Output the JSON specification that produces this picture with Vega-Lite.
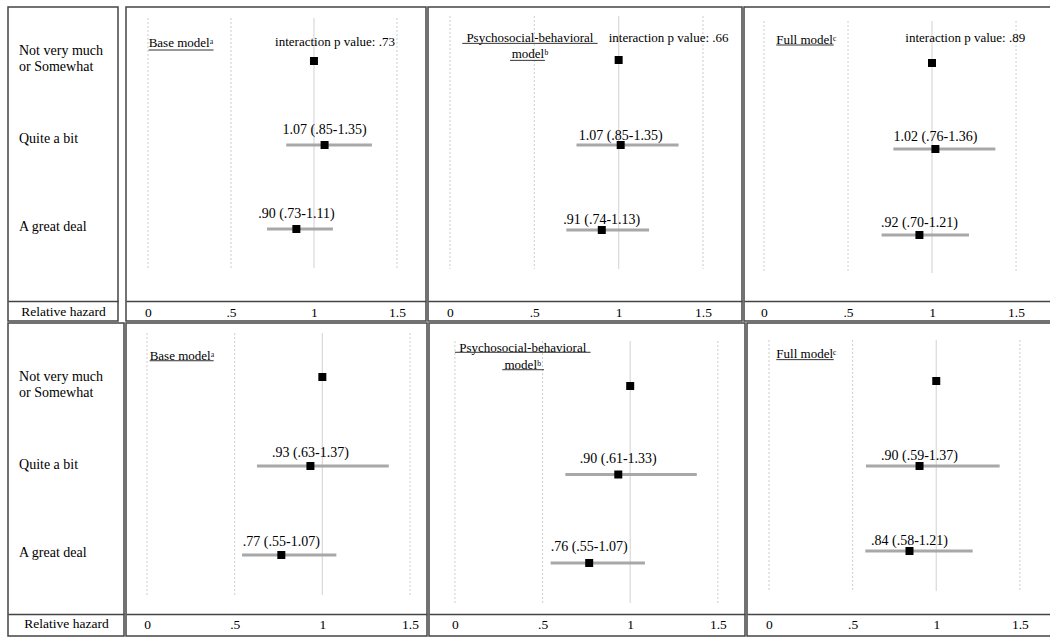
{
  "$schema": "https://vega.github.io/schema/vega-lite/v6.json",
  "background": "white",
  "padding": {"left": 7, "top": 6, "right": 3, "bottom": 5},
  "spacing": 0,
  "config": {
    "view": {"stroke": "#444444", "strokeWidth": 1.5},
    "font": "Liberation Serif",
    "text": {"font": "Liberation Serif", "color": "#000000"},
    "axis": {
      "domainColor": "#444444", "domainWidth": 1.5, "ticks": false, "tickSize": 0, "grid": false,
      "labelFont": "Liberation Serif", "labelFontSize": 13.5, "labelColor": "#000000",
      "titleFont": "Liberation Serif", "titleFontSize": 13.5, "titleColor": "#000000", "titleFontWeight": "normal",
      "labelFlush": false, "labelOverlap": false
    }
  },
  "datasets": {
    "cats": [
      {"r": 1, "lab": "Not very much\nor Somewhat"},
      {"r": 2, "lab": "Quite a bit"},
      {"r": 3, "lab": "A great deal"}
    ],
    "est": [
      {"panel": "top_base", "r": 1, "est": 1.0},
      {"panel": "top_base", "r": 2, "est": 1.064, "lo": 0.833, "hi": 1.349, "lab": "1.07 (.85-1.35)"},
      {"panel": "top_base", "r": 3, "est": 0.894, "lo": 0.717, "hi": 1.114, "lab": ".90 (.73-1.11)"},
      {"panel": "top_psych", "r": 1, "est": 1.0},
      {"panel": "top_psych", "r": 2, "est": 1.012, "lo": 0.75, "hi": 1.355, "lab": "1.07 (.85-1.35)"},
      {"panel": "top_psych", "r": 3, "est": 0.90, "lo": 0.69, "hi": 1.18, "lab": ".91 (.74-1.13)"},
      {"panel": "top_full", "r": 1, "est": 1.0},
      {"panel": "top_full", "r": 2, "est": 1.02, "lo": 0.77, "hi": 1.377, "lab": "1.02 (.76-1.36)"},
      {"panel": "top_full", "r": 3, "est": 0.925, "lo": 0.70, "hi": 1.22, "lab": ".92 (.70-1.21)"},
      {"panel": "bot_base", "r": 1, "est": 1.0},
      {"panel": "bot_base", "r": 2, "est": 0.932, "lo": 0.627, "hi": 1.379, "lab": ".93 (.63-1.37)"},
      {"panel": "bot_base", "r": 3, "est": 0.766, "lo": 0.542, "hi": 1.08, "lab": ".77 (.55-1.07)"},
      {"panel": "bot_psych", "r": 1, "est": 1.0},
      {"panel": "bot_psych", "r": 2, "est": 0.932, "lo": 0.63, "hi": 1.38, "lab": ".90 (.61-1.33)"},
      {"panel": "bot_psych", "r": 3, "est": 0.766, "lo": 0.546, "hi": 1.084, "lab": ".76 (.55-1.07)"},
      {"panel": "bot_full", "r": 1, "est": 1.0},
      {"panel": "bot_full", "r": 2, "est": 0.90, "lo": 0.58, "hi": 1.379, "lab": ".90 (.59-1.37)"},
      {"panel": "bot_full", "r": 3, "est": 0.84, "lo": 0.576, "hi": 1.218, "lab": ".84 (.58-1.21)"}
    ]
  },
  "vconcat": [
    {
      "spacing": 6,
      "hconcat": [
        {
          "width": 110, "height": 314,
          "data": {"name": "cats"},
          "mark": {"type": "text", "align": "left", "baseline": "middle", "fontSize": 14, "lineBreak": "\n", "lineHeight": 16},
          "encoding": {
            "x": {"datum": 0.1, "type": "quantitative", "scale": {"domain": [0, 1], "nice": false, "zero": false},
                  "axis": {"title": "Relative hazard", "labels": false, "domain": true, "offset": -20, "titlePadding": 3}},
            "y": {"field": "r", "type": "quantitative", "scale": {"domain": [0.503, 4.072], "reverse": true, "nice": false, "zero": false}, "axis": null},
            "text": {"field": "lab"}
          }
        },
        {
          "spacing": 0,
          "hconcat": [
            {
              "width": 300, "height": 314,
              "layer": [
                {"data": {"values": [{"v": 0}, {"v": 0.5}, {"v": 1.5}]},
                 "mark": {"type": "rule", "color": "#cccccc", "strokeDash": [2, 2], "strokeWidth": 1},
                 "encoding": {
                   "x": {"field": "v", "type": "quantitative", "scale": {"domain": [-0.1325, 1.675], "nice": false, "zero": false},
                         "axis": {"title": null, "values": [0, 0.5, 1, 1.5], "labelExpr": "datum.value == 0.5 ? '.5' : datum.value == 1.5 ? '1.5' : datum.value == 1 ? '1' : '0'", "offset": -20, "labelPadding": 4}},
                   "y": {"datum": 0.488, "type": "quantitative", "scale": {"domain": [0.357, 4.095], "reverse": true, "nice": false, "zero": false}, "axis": null},
                   "y2": {"datum": 3.464}}},
                {"data": {"values": [{"v": 1}]},
                 "mark": {"type": "rule", "color": "#d9d9d9", "strokeWidth": 1.2},
                 "encoding": {"x": {"field": "v", "type": "quantitative"}, "y": {"datum": 0.488, "type": "quantitative"}, "y2": {"datum": 3.464}}},
                {"data": {"name": "est"}, "transform": [{"filter": "datum.panel == 'top_base' && isValid(datum.lo)"}],
                 "mark": {"type": "rule", "color": "#a8a8a8", "strokeWidth": 3},
                 "encoding": {"x": {"field": "lo", "type": "quantitative"}, "x2": {"field": "hi"}, "y": {"field": "r", "type": "quantitative"}}},
                {"data": {"name": "est"}, "transform": [{"filter": "datum.panel == 'top_base'"}],
                 "mark": {"type": "point", "shape": "square", "filled": true, "color": "#000000", "size": 64, "opacity": 1},
                 "encoding": {"x": {"field": "est", "type": "quantitative"}, "y": {"field": "r", "type": "quantitative"}}},
                {"data": {"name": "est"}, "transform": [{"filter": "datum.panel == 'top_base' && isValid(datum.lab)"}],
                 "mark": {"type": "text", "fontSize": 14, "dy": -15.5, "align": "center", "baseline": "middle"},
                 "encoding": {"x": {"field": "est", "type": "quantitative"}, "y": {"field": "r", "type": "quantitative"}, "text": {"field": "lab"}}},
                {"data": {"values": [{"t": "Base modelᵃ"}]},
                 "mark": {"type": "text", "fontSize": 13, "align": "left", "baseline": "middle"},
                 "encoding": {"x": {"datum": 0.004}, "y": {"datum": 0.782}, "text": {"field": "t"}}},
                {"data": {"values": [{"u": 1}]},
                 "mark": {"type": "rule", "color": "#333333", "strokeWidth": 1},
                 "encoding": {"x": {"datum": 0.004}, "x2": {"datum": 0.395}, "y": {"datum": 0.869}}},
                {"data": {"values": [{"t": "interaction p value: .73"}]},
                 "mark": {"type": "text", "fontSize": 13, "align": "center", "baseline": "middle"},
                 "encoding": {"x": {"datum": 1.127}, "y": {"datum": 0.77}, "text": {"field": "t"}}}
              ]
            },
            {
              "width": 314, "height": 314,
              "layer": [
                {"data": {"values": [{"v": 0}, {"v": 0.5}, {"v": 1.5}]},
                 "mark": {"type": "rule", "color": "#cccccc", "strokeDash": [2, 2], "strokeWidth": 1},
                 "encoding": {
                   "x": {"field": "v", "type": "quantitative", "scale": {"domain": [-0.13, 1.731], "nice": false, "zero": false},
                         "axis": {"title": null, "values": [0, 0.5, 1, 1.5], "labelExpr": "datum.value == 0.5 ? '.5' : datum.value == 1.5 ? '1.5' : datum.value == 1 ? '1' : '0'", "offset": -20, "labelPadding": 4}},
                   "y": {"datum": 0.482, "type": "quantitative", "scale": {"domain": [0.376, 4.071], "reverse": true, "nice": false, "zero": false}, "axis": null},
                   "y2": {"datum": 3.459}}},
                {"data": {"values": [{"v": 1}]},
                 "mark": {"type": "rule", "color": "#d9d9d9", "strokeWidth": 1.2},
                 "encoding": {"x": {"field": "v", "type": "quantitative"}, "y": {"datum": 0.482, "type": "quantitative"}, "y2": {"datum": 3.459}}},
                {"data": {"name": "est"}, "transform": [{"filter": "datum.panel == 'top_psych' && isValid(datum.lo)"}],
                 "mark": {"type": "rule", "color": "#a8a8a8", "strokeWidth": 3},
                 "encoding": {"x": {"field": "lo", "type": "quantitative"}, "x2": {"field": "hi"}, "y": {"field": "r", "type": "quantitative"}}},
                {"data": {"name": "est"}, "transform": [{"filter": "datum.panel == 'top_psych'"}],
                 "mark": {"type": "point", "shape": "square", "filled": true, "color": "#000000", "size": 64, "opacity": 1},
                 "encoding": {"x": {"field": "est", "type": "quantitative"}, "y": {"field": "r", "type": "quantitative"}}},
                {"data": {"name": "est"}, "transform": [{"filter": "datum.panel == 'top_psych' && isValid(datum.lab)"}],
                 "mark": {"type": "text", "fontSize": 14, "dy": -9.5, "align": "center", "baseline": "middle"},
                 "encoding": {"x": {"field": "est", "type": "quantitative"}, "y": {"field": "r", "type": "quantitative"}, "text": {"field": "lab"}}},
                {"data": {"values": [{"t": "Psychosocial-behavioral\nmodelᵇ"}]},
                 "mark": {"type": "text", "fontSize": 13, "align": "center", "baseline": "middle", "lineBreak": "\n", "lineHeight": 16.6},
                 "encoding": {"x": {"datum": 0.474}, "y": {"datum": 0.738}, "text": {"field": "t"}}},
                {"data": {"values": [{"u": 1}]},
                 "mark": {"type": "rule", "color": "#333333", "strokeWidth": 1},
                 "encoding": {"x": {"datum": 0.073}, "x2": {"datum": 0.875}, "y": {"datum": 0.804}}},
                {"data": {"values": [{"u": 1}]},
                 "mark": {"type": "rule", "color": "#333333", "strokeWidth": 1},
                 "encoding": {"x": {"datum": 0.356}, "x2": {"datum": 0.563}, "y": {"datum": 1.004}}},
                {"data": {"values": [{"t": "interaction p value: .66"}]},
                 "mark": {"type": "text", "fontSize": 13, "align": "center", "baseline": "middle"},
                 "encoding": {"x": {"datum": 1.296}, "y": {"datum": 0.738}, "text": {"field": "t"}}}
              ]
            },
            {
              "width": 308, "height": 314,
              "layer": [
                {"data": {"values": [{"v": 0}, {"v": 0.5}, {"v": 1.5}]},
                 "mark": {"type": "rule", "color": "#cccccc", "strokeDash": [2, 2], "strokeWidth": 1},
                 "encoding": {
                   "x": {"field": "v", "type": "quantitative", "scale": {"domain": [-0.119, 1.714], "nice": false, "zero": false},
                         "axis": {"title": null, "values": [0, 0.5, 1, 1.5], "labelExpr": "datum.value == 0.5 ? '.5' : datum.value == 1.5 ? '1.5' : datum.value == 1 ? '1' : '0'", "offset": -20, "labelPadding": 4}},
                   "y": {"datum": 0.512, "type": "quantitative", "scale": {"domain": [0.349, 4.0], "reverse": true, "nice": false, "zero": false}, "axis": null},
                   "y2": {"datum": 3.442}}},
                {"data": {"values": [{"v": 1}]},
                 "mark": {"type": "rule", "color": "#d9d9d9", "strokeWidth": 1.2},
                 "encoding": {"x": {"field": "v", "type": "quantitative"}, "y": {"datum": 0.512, "type": "quantitative"}, "y2": {"datum": 3.442}}},
                {"data": {"name": "est"}, "transform": [{"filter": "datum.panel == 'top_full' && isValid(datum.lo)"}],
                 "mark": {"type": "rule", "color": "#a8a8a8", "strokeWidth": 3},
                 "encoding": {"x": {"field": "lo", "type": "quantitative"}, "x2": {"field": "hi"}, "y": {"field": "r", "type": "quantitative"}}},
                {"data": {"name": "est"}, "transform": [{"filter": "datum.panel == 'top_full'"}],
                 "mark": {"type": "point", "shape": "square", "filled": true, "color": "#000000", "size": 64, "opacity": 1},
                 "encoding": {"x": {"field": "est", "type": "quantitative"}, "y": {"field": "r", "type": "quantitative"}}},
                {"data": {"name": "est"}, "transform": [{"filter": "datum.panel == 'top_full' && isValid(datum.lab)"}],
                 "mark": {"type": "text", "fontSize": 14, "dy": -12, "align": "center", "baseline": "middle"},
                 "encoding": {"x": {"field": "est", "type": "quantitative"}, "y": {"field": "r", "type": "quantitative"}, "text": {"field": "lab"}}},
                {"data": {"values": [{"t": "Full modelᶜ"}]},
                 "mark": {"type": "text", "fontSize": 13, "align": "left", "baseline": "middle"},
                 "encoding": {"x": {"datum": 0.073}, "y": {"datum": 0.733}, "text": {"field": "t"}}},
                {"data": {"values": [{"u": 1}]},
                 "mark": {"type": "rule", "color": "#333333", "strokeWidth": 1},
                 "encoding": {"x": {"datum": 0.073}, "x2": {"datum": 0.415}, "y": {"datum": 0.791}}},
                {"data": {"values": [{"t": "interaction p value: .89"}]},
                 "mark": {"type": "text", "fontSize": 13, "align": "center", "baseline": "middle"},
                 "encoding": {"x": {"datum": 1.198}, "y": {"datum": 0.706}, "text": {"field": "t"}}}
              ]
            }
          ]
        }
      ]
    },
    {
      "spacing": 0,
      "hconcat": [
        {
          "width": 116, "height": 313,
          "data": {"name": "cats"},
          "mark": {"type": "text", "align": "left", "baseline": "middle", "fontSize": 14, "lineBreak": "\n", "lineHeight": 16},
          "encoding": {
            "x": {"datum": 0.095, "type": "quantitative", "scale": {"domain": [0, 1], "nice": false, "zero": false},
                  "axis": {"title": "Relative hazard", "labels": false, "domain": true, "offset": -22, "titlePadding": 2}},
            "y": {"field": "r", "type": "quantitative", "scale": {"domain": [0.39, 3.947], "reverse": true, "nice": false, "zero": false}, "axis": null},
            "text": {"field": "lab"}
          }
        },
        {
          "width": 301, "height": 313,
          "layer": [
            {"data": {"values": [{"v": 0}, {"v": 0.5}, {"v": 1.5}]},
             "mark": {"type": "rule", "color": "#cccccc", "strokeDash": [2, 2], "strokeWidth": 1},
             "encoding": {
               "x": {"field": "v", "type": "quantitative", "scale": {"domain": [-0.12, 1.597], "nice": false, "zero": false},
                     "axis": {"title": null, "values": [0, 0.5, 1, 1.5], "labelExpr": "datum.value == 0.5 ? '.5' : datum.value == 1.5 ? '1.5' : datum.value == 1 ? '1' : '0'", "offset": -22, "labelPadding": 3}},
               "y": {"datum": 0.506, "type": "quantitative", "scale": {"domain": [0.393, 3.91], "reverse": true, "nice": false, "zero": false}, "axis": null},
               "y2": {"datum": 3.449}}},
            {"data": {"values": [{"v": 1}]},
             "mark": {"type": "rule", "color": "#d9d9d9", "strokeWidth": 1.2},
             "encoding": {"x": {"field": "v", "type": "quantitative"}, "y": {"datum": 0.506, "type": "quantitative"}, "y2": {"datum": 3.449}}},
            {"data": {"name": "est"}, "transform": [{"filter": "datum.panel == 'bot_base' && isValid(datum.lo)"}],
             "mark": {"type": "rule", "color": "#a8a8a8", "strokeWidth": 3},
             "encoding": {"x": {"field": "lo", "type": "quantitative"}, "x2": {"field": "hi"}, "y": {"field": "r", "type": "quantitative"}}},
            {"data": {"name": "est"}, "transform": [{"filter": "datum.panel == 'bot_base'"}],
             "mark": {"type": "point", "shape": "square", "filled": true, "color": "#000000", "size": 64, "opacity": 1},
             "encoding": {"x": {"field": "est", "type": "quantitative"}, "y": {"field": "r", "type": "quantitative"}}},
            {"data": {"name": "est"}, "transform": [{"filter": "datum.panel == 'bot_base' && isValid(datum.lab)"}],
             "mark": {"type": "text", "fontSize": 14, "dy": -13, "align": "center", "baseline": "middle"},
             "encoding": {"x": {"field": "est", "type": "quantitative"}, "y": {"field": "r", "type": "quantitative"}, "text": {"field": "lab"}}},
            {"data": {"values": [{"t": "Base modelᵃ"}]},
             "mark": {"type": "text", "fontSize": 13, "align": "left", "baseline": "middle"},
             "encoding": {"x": {"datum": 0.015}, "y": {"datum": 0.761}, "text": {"field": "t"}}},
            {"data": {"values": [{"u": 1}]},
             "mark": {"type": "rule", "color": "#333333", "strokeWidth": 1},
             "encoding": {"x": {"datum": 0.015}, "x2": {"datum": 0.38}, "y": {"datum": 0.817}}}
          ]
        },
        {
          "width": 316, "height": 313,
          "layer": [
            {"data": {"values": [{"v": 0}, {"v": 0.5}, {"v": 1.5}]},
             "mark": {"type": "rule", "color": "#cccccc", "strokeDash": [2, 2], "strokeWidth": 1},
             "encoding": {
               "x": {"field": "v", "type": "quantitative", "scale": {"domain": [-0.148, 1.655], "nice": false, "zero": false},
                     "axis": {"title": null, "values": [0, 0.5, 1, 1.5], "labelExpr": "datum.value == 0.5 ? '.5' : datum.value == 1.5 ? '1.5' : datum.value == 1 ? '1' : '0'", "offset": -22, "labelPadding": 3}},
               "y": {"datum": 0.492, "type": "quantitative", "scale": {"domain": [0.288, 3.825], "reverse": true, "nice": false, "zero": false}, "axis": null},
               "y2": {"datum": 3.452}}},
            {"data": {"values": [{"v": 1}]},
             "mark": {"type": "rule", "color": "#d9d9d9", "strokeWidth": 1.2},
             "encoding": {"x": {"field": "v", "type": "quantitative"}, "y": {"datum": 0.492, "type": "quantitative"}, "y2": {"datum": 3.452}}},
            {"data": {"name": "est"}, "transform": [{"filter": "datum.panel == 'bot_psych' && isValid(datum.lo)"}],
             "mark": {"type": "rule", "color": "#a8a8a8", "strokeWidth": 3},
             "encoding": {"x": {"field": "lo", "type": "quantitative"}, "x2": {"field": "hi"}, "y": {"field": "r", "type": "quantitative"}}},
            {"data": {"name": "est"}, "transform": [{"filter": "datum.panel == 'bot_psych'"}],
             "mark": {"type": "point", "shape": "square", "filled": true, "color": "#000000", "size": 64, "opacity": 1},
             "encoding": {"x": {"field": "est", "type": "quantitative"}, "y": {"field": "r", "type": "quantitative"}}},
            {"data": {"name": "est"}, "transform": [{"filter": "datum.panel == 'bot_psych' && isValid(datum.lab)"}],
             "mark": {"type": "text", "fontSize": 14, "dy": -15.5, "align": "center", "baseline": "middle"},
             "encoding": {"x": {"field": "est", "type": "quantitative"}, "y": {"field": "r", "type": "quantitative"}, "text": {"field": "lab"}}},
            {"data": {"values": [{"t": "Psychosocial-behavioral\nmodelᵇ"}]},
             "mark": {"type": "text", "fontSize": 13, "align": "center", "baseline": "middle", "lineBreak": "\n", "lineHeight": 16.6},
             "encoding": {"x": {"datum": 0.387}, "y": {"datum": 0.571}, "text": {"field": "t"}}},
            {"data": {"values": [{"u": 1}]},
             "mark": {"type": "rule", "color": "#333333", "strokeWidth": 1},
             "encoding": {"x": {"datum": 0.0}, "x2": {"datum": 0.774}, "y": {"datum": 0.619}}},
            {"data": {"values": [{"u": 1}]},
             "mark": {"type": "rule", "color": "#333333", "strokeWidth": 1},
             "encoding": {"x": {"datum": 0.27}, "x2": {"datum": 0.508}, "y": {"datum": 0.816}}}
          ]
        },
        {
          "width": 305, "height": 313,
          "layer": [
            {"data": {"values": [{"v": 0}, {"v": 0.5}, {"v": 1.5}]},
             "mark": {"type": "rule", "color": "#cccccc", "strokeDash": [2, 2], "strokeWidth": 1},
             "encoding": {
               "x": {"field": "v", "type": "quantitative", "scale": {"domain": [-0.1315, 1.692], "nice": false, "zero": false},
                     "axis": {"title": null, "values": [0, 0.5, 1, 1.5], "labelExpr": "datum.value == 0.5 ? '.5' : datum.value == 1.5 ? '1.5' : datum.value == 1 ? '1' : '0'", "offset": -22, "labelPadding": 3}},
               "y": {"datum": 0.518, "type": "quantitative", "scale": {"domain": [0.318, 4.0], "reverse": true, "nice": false, "zero": false}, "axis": null},
               "y2": {"datum": 3.471}}},
            {"data": {"values": [{"v": 1}]},
             "mark": {"type": "rule", "color": "#d9d9d9", "strokeWidth": 1.2},
             "encoding": {"x": {"field": "v", "type": "quantitative"}, "y": {"datum": 0.518, "type": "quantitative"}, "y2": {"datum": 3.471}}},
            {"data": {"name": "est"}, "transform": [{"filter": "datum.panel == 'bot_full' && isValid(datum.lo)"}],
             "mark": {"type": "rule", "color": "#a8a8a8", "strokeWidth": 3},
             "encoding": {"x": {"field": "lo", "type": "quantitative"}, "x2": {"field": "hi"}, "y": {"field": "r", "type": "quantitative"}}},
            {"data": {"name": "est"}, "transform": [{"filter": "datum.panel == 'bot_full'"}],
             "mark": {"type": "point", "shape": "square", "filled": true, "color": "#000000", "size": 64, "opacity": 1},
             "encoding": {"x": {"field": "est", "type": "quantitative"}, "y": {"field": "r", "type": "quantitative"}}},
            {"data": {"name": "est"}, "transform": [{"filter": "datum.panel == 'bot_full' && isValid(datum.lab)"}],
             "mark": {"type": "text", "fontSize": 14, "dy": -9.5, "align": "center", "baseline": "middle"},
             "encoding": {"x": {"field": "est", "type": "quantitative"}, "y": {"field": "r", "type": "quantitative"}, "text": {"field": "lab"}}},
            {"data": {"values": [{"t": "Full modelᶜ"}]},
             "mark": {"type": "text", "fontSize": 13, "align": "left", "baseline": "middle"},
             "encoding": {"x": {"datum": 0.044}, "y": {"datum": 0.682}, "text": {"field": "t"}}},
            {"data": {"values": [{"u": 1}]},
             "mark": {"type": "rule", "color": "#333333", "strokeWidth": 1},
             "encoding": {"x": {"datum": 0.044}, "x2": {"datum": 0.387}, "y": {"datum": 0.749}}}
          ]
        }
      ]
    }
  ]
}
